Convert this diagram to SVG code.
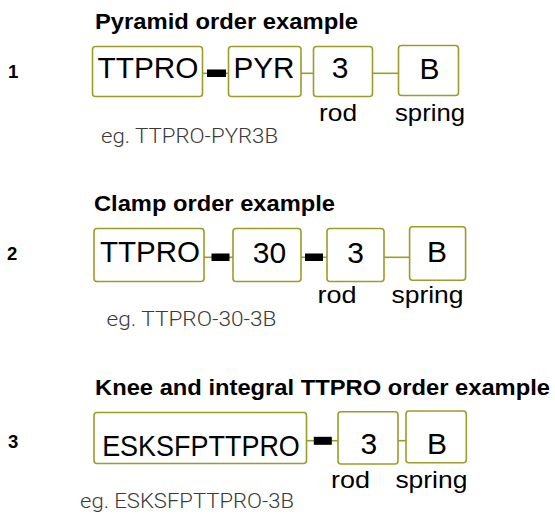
<svg xmlns="http://www.w3.org/2000/svg" width="555" height="515" viewBox="0 0 555 515">
<style>
.bg{fill:#ffffff}
.box{fill:#ffffff;stroke:#9c9c2a;stroke-width:1.6}
.ln{stroke:#9c9c2a;stroke-width:1.6;fill:none}
.bar{fill:#000000}
.code{font-family:"Liberation Sans",Arial,sans-serif;font-size:30px;fill:#000;text-anchor:middle}
.lbl{font-family:"Liberation Sans",Arial,sans-serif;font-size:24px;fill:#000;text-anchor:middle}
.title{font-family:"Liberation Sans",Arial,sans-serif;font-size:22.5px;font-weight:bold;fill:#000}
.num{font-family:"Liberation Sans",Arial,sans-serif;font-size:18.5px;font-weight:bold;fill:#000}
.eg{font-family:Roboto,"Liberation Sans",Arial,sans-serif;font-weight:300;font-size:21px;fill:#3a3a3a}
</style>
<rect class="bg" x="0" y="0" width="555" height="515"/>

<!-- Row 1 -->
<text class="title" x="95" y="28.5" textLength="263" lengthAdjust="spacingAndGlyphs">Pyramid order example</text>
<text class="num" x="8" y="78">1</text>
<g id="connectors">
  <line class="ln" x1="202.5" y1="73.3" x2="228.5" y2="73.3"/>
  <rect class="bar" x="207" y="69.5" width="19" height="7.5"/>
  <line class="ln" x1="301" y1="73.3" x2="313.5" y2="73.3"/>
  <line class="ln" x1="372.5" y1="73.3" x2="398.5" y2="73.3"/>

  <line class="ln" x1="204" y1="257.3" x2="233" y2="257.3"/>
  <rect class="bar" x="211.5" y="253.5" width="18" height="7.5"/>
  <line class="ln" x1="301" y1="257.3" x2="327" y2="257.3"/>
  <rect class="bar" x="305" y="253.5" width="18" height="7.5"/>
  <line class="ln" x1="384" y1="257.3" x2="409.6" y2="257.3"/>

  <line class="ln" x1="306.5" y1="440.7" x2="338" y2="440.7"/>
  <rect class="bar" x="313.8" y="436.8" width="18" height="8"/>
  <line class="ln" x1="398" y1="440.7" x2="406" y2="440.7"/>
</g>
<g id="r1-ttpro">
  <rect class="box" x="92.5" y="46.5" width="110" height="50" rx="3"/>
  <text class="code" x="148" y="77.5" textLength="101" lengthAdjust="spacingAndGlyphs">TTPRO</text>
</g>
<g id="r1-pyr">
  <rect class="box" x="228.5" y="46.5" width="72.5" height="50" rx="3"/>
  <text class="code" x="264" y="78" textLength="61" lengthAdjust="spacingAndGlyphs">PYR</text>
</g>
<g id="r1-rod">
  <rect class="box" x="313.5" y="46.5" width="59" height="50" rx="3"/>
  <text class="code" x="340" y="78">3</text>
  <text class="lbl" x="338" y="121" textLength="38" lengthAdjust="spacingAndGlyphs">rod</text>
</g>
<g id="r1-spring">
  <rect class="box" x="398.5" y="45.5" width="60" height="50" rx="3"/>
  <text class="code" x="429.5" y="79">B</text>
  <text class="lbl" x="430" y="121" textLength="70" lengthAdjust="spacingAndGlyphs">spring</text>
</g>
<text class="eg" x="101" y="143" textLength="177" lengthAdjust="spacingAndGlyphs">eg. TTPRO-PYR3B</text>

<!-- Row 2 -->
<text class="title" x="94" y="211" textLength="241" lengthAdjust="spacingAndGlyphs">Clamp order example</text>
<text class="num" x="7" y="260">2</text>
<g id="r2-ttpro">
  <rect class="box" x="94" y="228.5" width="110" height="53" rx="3"/>
  <text class="code" x="150" y="262.3" textLength="100" lengthAdjust="spacingAndGlyphs">TTPRO</text>
</g>
<g id="r2-30">
  <rect class="box" x="233" y="228.5" width="68" height="53" rx="3"/>
  <text class="code" x="269.5" y="263">30</text>
</g>
<g id="r2-rod">
  <rect class="box" x="327" y="228.5" width="57" height="53" rx="3"/>
  <text class="code" x="355.7" y="263">3</text>
  <text class="lbl" x="337" y="303.3" textLength="39" lengthAdjust="spacingAndGlyphs">rod</text>
</g>
<g id="r2-spring">
  <rect class="box" x="409.6" y="226.7" width="56" height="53.5" rx="3"/>
  <text class="code" x="437" y="262">B</text>
  <text class="lbl" x="427.5" y="303.3" textLength="72" lengthAdjust="spacingAndGlyphs">spring</text>
</g>
<text class="eg" x="106.5" y="325.5" textLength="170" lengthAdjust="spacingAndGlyphs">eg. TTPRO-30-3B</text>

<!-- Row 3 -->
<text class="title" x="95" y="395" textLength="455" lengthAdjust="spacingAndGlyphs">Knee and integral TTPRO order example</text>
<text class="num" x="8" y="448">3</text>
<g id="r3-esksfpttpro">
  <rect class="box" x="94" y="412.5" width="212.5" height="51" rx="3"/>
  <text class="code" x="201" y="455.5" textLength="197.7" lengthAdjust="spacingAndGlyphs">ESKSFPTTPRO</text>
</g>
<g id="r3-rod">
  <rect class="box" x="338" y="411.7" width="60" height="52.3" rx="3"/>
  <text class="code" x="368.8" y="454">3</text>
  <text class="lbl" x="350.4" y="488.3" textLength="39" lengthAdjust="spacingAndGlyphs">rod</text>
</g>
<g id="r3-spring">
  <rect class="box" x="406" y="411" width="60.3" height="51.7" rx="3"/>
  <text class="code" x="436.9" y="454">B</text>
  <text class="lbl" x="431.4" y="488.3" textLength="72" lengthAdjust="spacingAndGlyphs">spring</text>
</g>
<text class="eg" x="80" y="508" textLength="214" lengthAdjust="spacingAndGlyphs">eg. ESKSFPTTPRO-3B</text>
</svg>
